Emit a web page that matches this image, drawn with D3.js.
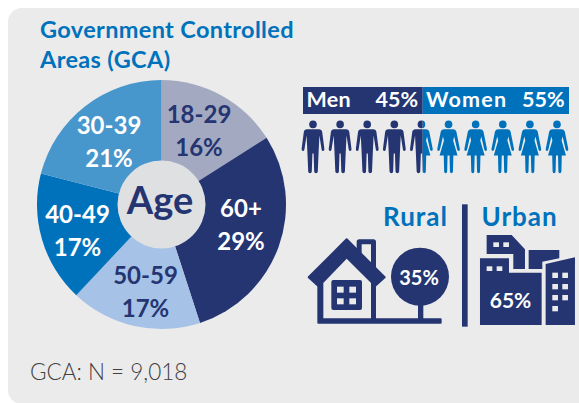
<!DOCTYPE html>
<html>
<head>
<meta charset="utf-8">
<script src="https://cdn.jsdelivr.net/npm/d3@7"></script>
<style>
  html, body { margin: 0; padding: 0; background: #fff; }
  svg { display: block; }
  text { font-family: Lato, sans-serif; }
</style>
</head>
<body>
<div id="chart"></div>
<script>
// age groups, clockwise from the top
let ageLabels = ["18-29", "60+", "50-59", "40-49", "30-39"];
let ageValues = [16, 29, 17, 17, 21];
let ageColors = ["#a3a9c1", "#243572", "#a6c2e6", "#0072bc", "#4796cc"];
let ageTextColors = ["#243572", "#fff", "#243572", "#fff", "#fff"];
// centre x and first baseline of each label
let ageLabelPos = [[199, 123], [241, 217], [145.5, 284], [77.5, 223], [109, 134]];

let genderLabels = ["Men", "Women"];
let genderValues = [45, 55];
let settlementLabels = ["Rural", "Urban"];
let settlementValues = [35, 65];
let peopleCount = d3.range(10);

let navy = "#243572", blue = "#0072bc", panelColor = "#ebebeb";

let svg = d3.select("#chart").append("svg")
    .attr("width", 579)
    .attr("height", 403);

svg.append("rect")
    .attr("x", 8).attr("y", 8)
    .attr("width", 600).attr("height", 396)
    .attr("rx", 14)
    .attr("fill", panelColor);

// title
svg.selectAll(".title")
    .data(["Government Controlled", "Areas (GCA)"])
    .join("text")
    .attr("class", "title")
    .attr("x", 40)
    .attr("y", (d, i) => 38 + i * 29.5)
    .attr("fill", blue)
    .attr("font-size", 23.5)
    .attr("letter-spacing", 0.35)
    .attr("font-weight", 700)
    .text(d => d);

// pie
let pieG = svg.append("g").attr("transform", "translate(161.5,204.5)");
let pie = d3.pie().sort(null)(ageValues);
let arc = d3.arc().innerRadius(0).outerRadius(124.5);

pieG.selectAll("path")
    .data(pie)
    .join("path")
    .attr("d", arc)
    .attr("fill", (d, i) => ageColors[i]);

pieG.append("circle").attr("r", 44).attr("fill", "#dfe0e2");

svg.append("text")
    .attr("x", 160).attr("y", 214)
    .attr("text-anchor", "middle")
    .attr("fill", navy)
    .attr("font-size", 38)
    .attr("font-weight", 700)
    .text("Age");

ageLabels.forEach((label, i) => {
    [label, ageValues[i] + "%"].forEach((t, j) => {
        svg.append("text")
            .attr("x", ageLabelPos[i][0])
            .attr("y", ageLabelPos[i][1] + j * 33)
            .attr("text-anchor", "middle")
            .attr("fill", ageTextColors[i])
            .attr("font-size", 24)
            .attr("font-weight", 700)
            .text(t);
    });
});

svg.append("text")
    .attr("x", 30).attr("y", 380)
    .attr("fill", "#404040")
    .attr("font-size", 22.5)
    .attr("font-weight", 300)
    .text("GCA: N = 9,018");

// gender bar
let genderScale = d3.scaleLinear().domain([0, 100]).range([303, 569]);
let split = genderScale(genderValues[0]);

svg.selectAll(".genderbar")
    .data(genderValues)
    .join("rect")
    .attr("class", "genderbar")
    .attr("x", (d, i) => i == 0 ? genderScale(0) : split)
    .attr("y", 87)
    .attr("width", (d, i) => i == 0 ? split - genderScale(0) : genderScale(100) - split)
    .attr("height", 27)
    .attr("fill", (d, i) => i == 0 ? navy : blue);

let barText = [
    [genderLabels[0], 306.5, "start", 0.3],
    [genderValues[0] + "%", 418, "end", 0],
    [genderLabels[1], 426, "start", 1.2],
    [genderValues[1] + "%", 564.5, "end", 0]
];
svg.selectAll(".bartext")
    .data(barText)
    .join("text")
    .attr("class", "bartext")
    .attr("x", d => d[1])
    .attr("y", 106.5)
    .attr("text-anchor", d => d[2])
    .attr("letter-spacing", d => d[3])
    .attr("fill", "#fff")
    .attr("font-size", 21.5)
    .attr("font-weight", 700)
    .text(d => d[0]);

// people, the fifth one is half man half woman
let defs = svg.append("defs");
defs.append("clipPath").attr("id", "menClip").append("rect")
    .attr("x", 0).attr("y", 0).attr("width", split).attr("height", 403);
defs.append("clipPath").attr("id", "womenClip").append("rect")
    .attr("x", split).attr("y", 0).attr("width", 579 - split).attr("height", 403);

let manPath = "M-6,8.7 L6,8.7 Q8.7,8.7 9.2,11.5 L11.4,28.5 Q11.5,30.6 10,30.6 Q8.9,30.6 8.6,29 L6.4,15 L5.6,32 L4.8,51 Q4.6,52.8 3,52.8 Q1.3,52.8 1.2,51 L0.6,33 L-0.6,33 L-1.2,51 Q-1.3,52.8 -3,52.8 Q-4.6,52.8 -4.8,51 L-5.6,32 L-6.4,15 L-8.6,29 Q-8.9,30.6 -10,30.6 Q-11.5,30.6 -11.4,28.5 L-9.2,11.5 Q-8.7,8.7 -6,8.7 Z";
let womanPath = "M-4.5,8.7 L4.5,8.7 Q7,8.7 7.8,11 L11.3,28.5 Q11.5,30.4 10,30.4 Q9,30.4 8.6,29 L5.6,16 L4.6,20 L9,35 L4.8,35 L4.4,51 Q4.2,52.8 2.9,52.8 Q1.5,52.8 1.4,51 L1,35 L-1,35 L-1.4,51 Q-1.5,52.8 -2.9,52.8 Q-4.2,52.8 -4.4,51 L-4.8,35 L-9,35 L-4.6,20 L-5.6,16 L-8.6,29 Q-9,30.4 -10,30.4 Q-11.5,30.4 -11.3,28.5 L-7.8,11 Q-7,8.7 -4.5,8.7 Z";

let peopleScale = d3.scalePoint().domain(peopleCount).range([313, 557]);

function drawPeople(ids, shape, color, clip) {
    let g = svg.append("g")
        .attr("clip-path", "url(#" + clip + ")")
        .attr("fill", color);
    let person = g.selectAll("g")
        .data(ids)
        .join("g")
        .attr("transform", d => "translate(" + peopleScale(d) + ",120.5)");
    person.append("circle").attr("cy", 3.9).attr("r", 3.8);
    person.append("path").attr("d", shape);
}
drawPeople(peopleCount.filter(d => d <= 4), manPath, navy, "menClip");
drawPeople(peopleCount.filter(d => d >= 4), womanPath, blue, "womenClip");

// rural / urban headings
svg.selectAll(".place")
    .data(settlementLabels)
    .join("text")
    .attr("class", "place")
    .attr("x", (d, i) => i == 0 ? 448 : 481.5)
    .attr("y", 225.5)
    .attr("text-anchor", (d, i) => i == 0 ? "end" : "start")
    .attr("letter-spacing", 1)
    .attr("fill", blue)
    .attr("font-size", 26)
    .attr("font-weight", 700)
    .text(d => d);

// icons are traced at 3x, so the group scales them back down
let icons = svg.append("g")
    .attr("transform", "translate(290,190) scale(0.3333)")
    .attr("fill", navy);

icons.append("rect").attr("x", 516).attr("y", 43).attr("width", 17).attr("height", 367);

// house
icons.append("path")
    .attr("fill-rule", "evenodd")
    .attr("stroke", navy).attr("stroke-width", 6).attr("stroke-linejoin", "round")
    .attr("d", "M170,148 L284,262 L255,288 L255,388 L452,388 L452,398 L85,398 L85,288 L56,262 Z M170,202 L246,278 L246,388 L97,388 L97,278 Z");
icons.append("path")
    .attr("fill-rule", "evenodd")
    .attr("d", "M200,156 Q200,148 208,148 L250,148 Q258,148 258,156 L258,240 L243,225 L243,163 L215,163 L215,195 L200,180 Z");
icons.append("rect").attr("x", 124).attr("y", 270).attr("width", 92).attr("height", 90).attr("rx", 6);
icons.selectAll(".pane")
    .data([[141, 290], [178, 290], [141, 325], [178, 325]])
    .join("rect")
    .attr("class", "pane")
    .attr("x", d => d[0]).attr("y", d => d[1])
    .attr("width", 20).attr("height", 18)
    .attr("fill", panelColor);

// tree
icons.append("circle").attr("cx", 390).attr("cy", 260).attr("r", 87);
icons.append("rect").attr("x", 384).attr("y", 340).attr("width", 16).attr("height", 50);

// city
icons.append("path").attr("d", "M590,135 L665,135 L705,178 L705,237 L670,237 L670,192 L590,192 Z");
icons.append("path").attr("d", "M716,180 L808,180 L808,205 L757,215 L757,237 L716,237 Z");
icons.append("path").attr("d", "M570,205 L657,205 L657,248 L755,248 L755,405 L570,405 Z");
icons.append("path").attr("d", "M767,222 L855,202 L855,405 L767,405 Z");
icons.selectAll(".win")
    .data([[610, 157], [640, 157], [590, 229], [620, 229], [787, 248], [817, 248], [787, 282], [817, 282], [787, 315], [817, 315], [787, 348]])
    .join("rect")
    .attr("class", "win")
    .attr("x", d => d[0]).attr("y", d => d[1])
    .attr("width", 17).attr("height", d => d[0] > 700 ? 16 : 14)
    .attr("fill", panelColor);

// percent labels sitting on the icons
svg.selectAll(".placepct")
    .data(settlementValues)
    .join("text")
    .attr("class", "placepct")
    .attr("x", (d, i) => i == 0 ? 419 : 510.5)
    .attr("y", (d, i) => i == 0 ? 284.5 : 307.5)
    .attr("text-anchor", "middle")
    .attr("fill", "#fff")
    .attr("font-size", (d, i) => i == 0 ? 20 : 21)
    .attr("font-weight", 700)
    .text(d => d + "%");
</script>
</body>
</html>
